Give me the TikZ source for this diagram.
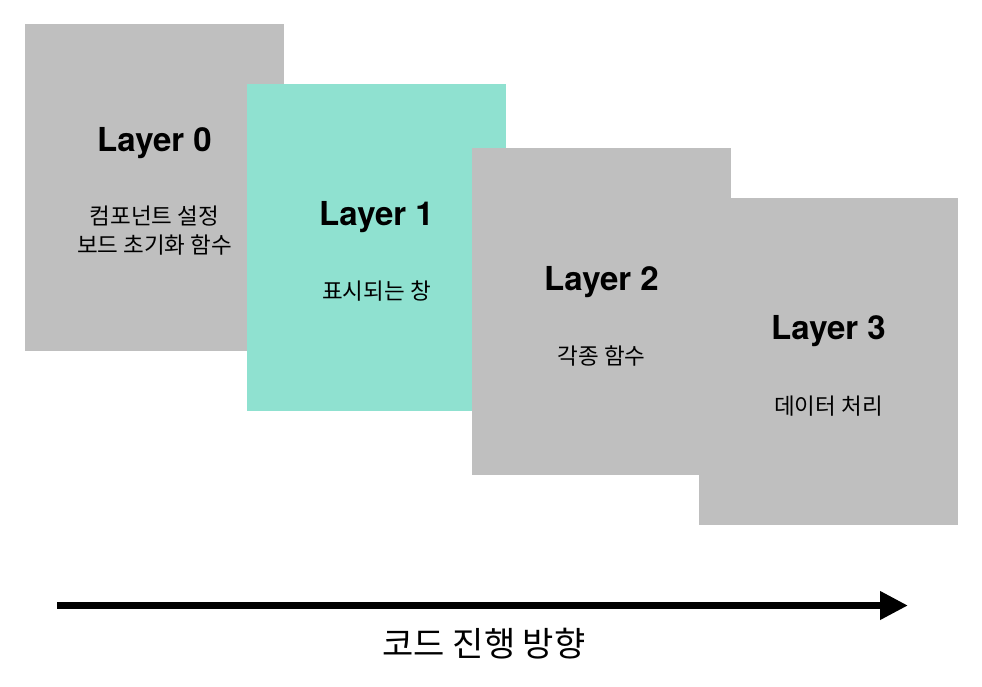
\documentclass[tikz,border=0pt]{standalone}
\usepackage{fontspec}
\newfontfamily\titlefont{TeX Gyre Heros}
\newfontfamily\krfont{Noto Sans CJK KR}
\usepackage{tikz}
\usetikzlibrary{arrows.meta,positioning}
\definecolor{layergray}{HTML}{BFBFBF}
\definecolor{activeteal}{HTML}{8FE1D0}

\tikzset{
  layerbox/.style={minimum width=259pt, minimum height=327pt, inner sep=0pt},
  layertitle/.style={anchor=base, inner sep=0pt, font=\titlefont\fontsize{33}{36}\selectfont\bfseries},
  layernote/.style={anchor=base, inner sep=0pt, font=\krfont\fontsize{22.5}{26}\selectfont},
}

\begin{document}
\begin{tikzpicture}[x=1pt, y=-1pt]
\useasboundingbox[fill=white] (0,0) rectangle (982,686);
% layer cards, back to front
\node[layerbox, fill=layergray] (card0) at (154.5,187) {};
\node[layerbox, fill=activeteal] (card1) at (376.5,247.5) {};
\node[layerbox, fill=layergray] (card2) at (601.5,311.5) {};
\node[layerbox, fill=layergray] (card3) at (828.5,361.5) {};
% titles and notes
\node[layertitle] (title0) at (154.5,151) {Layer 0};
\node[layernote] (note0a) at (154.5,224) {컴포넌트 설정};
\node[layernote] (note0b) at (154.5,253) {보드 초기화 함수};
\node[layertitle] (title1) at (376.5,225) {Layer 1};
\node[layernote] (note1) at (376.5,299) {표시되는 창};
\node[layertitle] (title2) at (601.5,290) {Layer 2};
\node[layernote] (note2) at (601.5,364) {각종 함수};
\node[layertitle] (title3) at (828.5,339) {Layer 3};
\node[layernote] (note3) at (828.5,414) {데이터 처리};
% flow arrow
\coordinate (flowstart) at (57,605.5);
\coordinate (flowend) at (908,605.5);
\draw[line width=7pt, -{Triangle[length=28pt, width=27pt]}] (flowstart) -- (flowend);
\node[anchor=base, inner sep=0pt, font=\krfont\fontsize{34}{38}\selectfont] (flowtext) at (484,656) {코드 진행 방향};
\end{tikzpicture}
\end{document}
